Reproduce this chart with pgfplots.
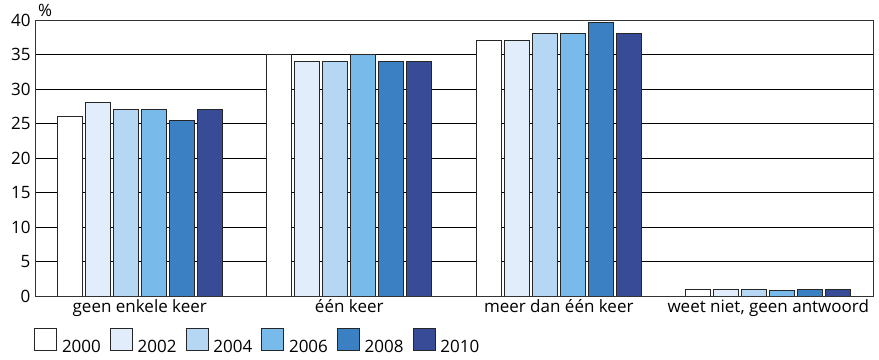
\documentclass[border=0pt]{standalone}
\usepackage{pgfplots}
\pgfplotsset{compat=1.18}
\usepackage{fontspec}
\setmainfont{Open Sans}
\usetikzlibrary{calc}

\definecolor{c2000}{RGB}{255,255,255}
\definecolor{c2002}{RGB}{225,237,250}
\definecolor{c2004}{RGB}{181,215,243}
\definecolor{c2006}{RGB}{120,187,234}
\definecolor{c2008}{RGB}{58,128,194}
\definecolor{c2010}{RGB}{56,75,150}

\begin{document}
\begin{tikzpicture}
\begin{axis}[
    scale only axis,
    width=838pt, height=276pt,
    ybar=3pt, bar width=25pt,
    xmin=-0.5, xmax=3.5,
    ymin=0, ymax=40,
    ytick={0,5,...,40},
    xtick={0,1,2,3},
    xticklabels={geen enkele keer,één keer,meer dan één keer,{weet niet, geen antwoord}},
    major tick length=0pt,
    ymajorgrids,
    grid style={black, line width=0.8pt},
    axis line style={black!80, line width=0.9pt},
    tick label style={font=\fontsize{17}{19}\selectfont},
    /pgf/number format/assume math mode=true,
    yticklabel style={xshift=-1pt},
    xticklabel style={yshift=0pt},
    every axis plot/.append style={draw=black!85, line width=0.8pt},
    legend image code/.code={\draw[#1, draw=black!85, line width=0.8pt] (0pt,-4pt) rectangle (22pt,18pt);},
    legend style={at={(rel axis cs:0,0)}, anchor=north west, xshift=-4pt, yshift=-30pt,
        draw=none, fill=none, legend columns=6,
        font=\fontsize{17}{19}\selectfont,
        /tikz/every even column/.append style={column sep=7pt},
        /tikz/every odd column/.append style={column sep=3pt}},
]
\addplot[fill=c2000] coordinates {(0,26) (1,35) (2,37) (3,1)};
\addplot[fill=c2002] coordinates {(0,28) (1,34) (2,37) (3,1)};
\addplot[fill=c2004] coordinates {(0,27) (1,34) (2,38) (3,1)};
\addplot[fill=c2006] coordinates {(0,27) (1,35) (2,38) (3,0.8)};
\addplot[fill=c2008] coordinates {(0,25.5) (1,34) (2,39.7) (3,0.9)};
\addplot[fill=c2010] coordinates {(0,27) (1,34) (2,38) (3,1)};
\legend{2000,2002,2004,2006,2008,2010}
\coordinate (bl) at (rel axis cs:0,0);
\coordinate (tr) at (rel axis cs:1,1);
\end{axis}
\node[anchor=south west, inner sep=0pt, font=\fontsize{17}{19}\selectfont] at ($(tr -| bl)+(3pt,3pt)$) {\%};
\path ($(bl)+(-35pt,-64pt)$) rectangle ($(tr)+(6pt,20pt)$);
\end{tikzpicture}
\end{document}
